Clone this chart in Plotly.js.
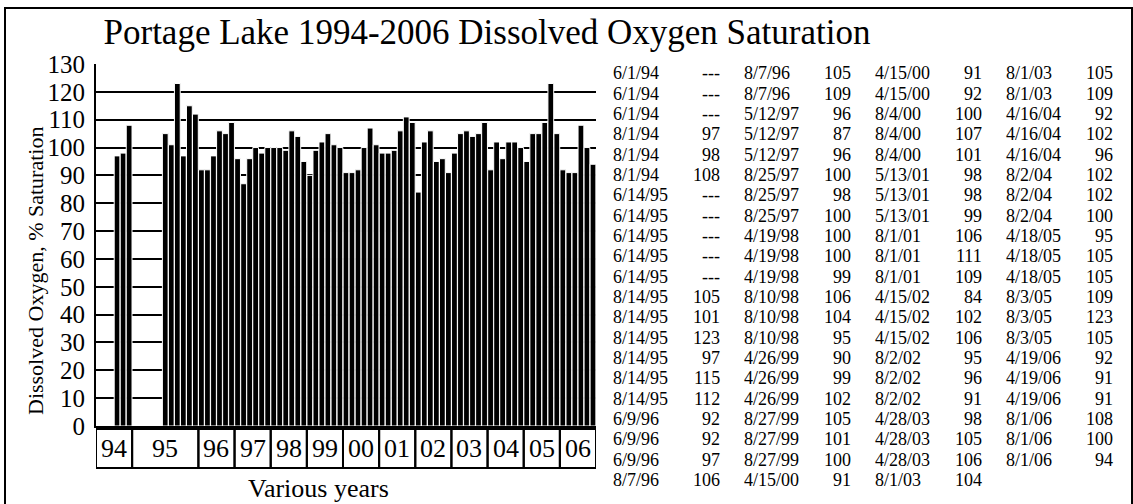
<!DOCTYPE html>
<html>
<head>
<meta charset="utf-8">
<script src="https://cdn.plot.ly/plotly-3.0.1.min.js"></script>
<style>
  html, body { margin: 0; padding: 0; background: #fff; }
  #chart { width: 1133px; height: 504px; }
</style>
</head>
<body>
<div id="chart"></div>
<script>
// ---- Data ----
const sampleDates = [
  '6/1/94','6/1/94','6/1/94','8/1/94','8/1/94','8/1/94',
  '6/14/95','6/14/95','6/14/95','6/14/95','6/14/95',
  '8/14/95','8/14/95','8/14/95','8/14/95','8/14/95','8/14/95',
  '6/9/96','6/9/96','6/9/96','8/7/96','8/7/96','8/7/96',
  '5/12/97','5/12/97','5/12/97','8/25/97','8/25/97','8/25/97',
  '4/19/98','4/19/98','4/19/98','8/10/98','8/10/98','8/10/98',
  '4/26/99','4/26/99','4/26/99','8/27/99','8/27/99','8/27/99',
  '4/15/00','4/15/00','4/15/00','8/4/00','8/4/00','8/4/00',
  '5/13/01','5/13/01','5/13/01','8/1/01','8/1/01','8/1/01',
  '4/15/02','4/15/02','4/15/02','8/2/02','8/2/02','8/2/02',
  '4/28/03','4/28/03','4/28/03','8/1/03','8/1/03','8/1/03',
  '4/16/04','4/16/04','4/16/04','8/2/04','8/2/04','8/2/04',
  '4/18/05','4/18/05','4/18/05','8/3/05','8/3/05','8/3/05',
  '4/19/06','4/19/06','4/19/06','8/1/06','8/1/06','8/1/06'
];
const saturation = [
  null,null,null,97,98,108,
  null,null,null,null,null,
  105,101,123,97,115,112,
  92,92,97,106,105,109,
  96,87,96,100,98,100,
  100,100,99,106,104,95,
  90,99,102,105,101,100,
  91,91,92,100,107,101,
  98,98,99,106,111,109,
  84,102,106,95,96,91,
  98,105,106,104,105,109,
  92,102,96,102,102,100,
  95,105,105,109,123,105,
  92,91,91,108,100,94
];
const titleText = 'Portage Lake 1994-2006 Dissolved Oxygen Saturation';
const yTitleText = 'Dissolved Oxygen, % Saturation';
const xTitleText = 'Various years';
const missingText = '---';

// ---- Layout constants (pixels) ----
const W = 1133, H = 504;
const PL = 96, PR = 596, PT = 64, PB = 426;
const pw = PR - PL, ph = PB - PT;
const px2x = p => (p - PL) / pw;
const px2y = p => (PB - p) / ph;
const FONT = 'Liberation Serif, Times New Roman, serif';

const idx = sampleDates.map((d, i) => i);

// year groups derived from dates
const yearGroups = [];
sampleDates.forEach((d, i) => {
  const yy = d.split('/')[2];
  const last = yearGroups[yearGroups.length - 1];
  if (last && last.yy === yy) last.end = i;
  else yearGroups.push({ yy: yy, start: i, end: i });
});

const shapes = [];
const annotations = [];

// outer frame
shapes.push({ type: 'rect', xref: 'paper', yref: 'paper',
  x0: px2x(5), x1: px2x(1132), y0: px2y(520), y1: px2y(8),
  line: { color: 'black', width: 2 }, fillcolor: 'rgba(0,0,0,0)', layer: 'below' });

// year boxes under the axis
const boxTop = px2y(429), boxBot = px2y(468);
yearGroups.forEach(g => {
  shapes.push({ type: 'rect', xref: 'x', yref: 'paper',
    x0: g.start - 0.5, x1: g.end + 0.5, y0: boxBot, y1: boxTop,
    line: { color: 'black', width: 2 }, fillcolor: 'rgba(0,0,0,0)' });
  annotations.push({ xref: 'x', yref: 'paper', x: (g.start + g.end) / 2,
    y: (boxTop + boxBot) / 2, text: g.yy, showarrow: false,
    xanchor: 'center', yanchor: 'middle',
    font: { family: FONT, size: 26, color: 'black' } });
});

// axis titles as annotations
annotations.push({ xref: 'paper', yref: 'paper', x: px2x(35), y: px2y(271),
  text: yTitleText, textangle: -90, showarrow: false, xanchor: 'center', yanchor: 'middle',
  font: { family: FONT, size: 22, color: 'black' } });
annotations.push({ xref: 'paper', yref: 'paper', x: px2x(318), y: px2y(488),
  text: xTitleText, showarrow: false, xanchor: 'center', yanchor: 'middle',
  font: { family: FONT, size: 26, color: 'black' } });

// data table on the right
const rowsPerCol = Math.ceil(sampleDates.length / 4);
const dateLeft0 = 612, valueRight0 = 721, colStep = 131;
const row0 = 73.5, rowStep = 20.33;
sampleDates.forEach((d, i) => {
  const c = Math.floor(i / rowsPerCol), r = i % rowsPerCol;
  const yy = px2y(row0 + r * rowStep);
  annotations.push({ xref: 'paper', yref: 'paper', x: px2x(dateLeft0 + c * colStep), y: yy,
    text: d, showarrow: false, xanchor: 'left', yanchor: 'middle', borderpad: 0,
    font: { family: FONT, size: 18, color: 'black' } });
  const v = saturation[i];
  annotations.push({ xref: 'paper', yref: 'paper', x: px2x(valueRight0 + c * colStep), y: yy,
    text: v === null ? missingText : String(v), showarrow: false, xanchor: 'right', yanchor: 'middle', borderpad: 0,
    font: { family: FONT, size: 18, color: 'black' } });
});

const trace = {
  type: 'bar', x: idx, y: saturation,
  marker: { color: 'black', line: { color: 'white', width: 1 } },
  hoverinfo: 'skip'
};

const layout = {
  width: W, height: H,
  margin: { l: PL, r: W - PR, t: PT, b: H - PB, pad: 0 },
  paper_bgcolor: 'white', plot_bgcolor: 'white',
  showlegend: false,
  bargap: 0.04,
  title: { text: titleText, x: 487 / W, xanchor: 'center', xref: 'container',
    y: 1 - 32 / H, yanchor: 'middle', yref: 'container',
    font: { family: FONT, size: 35, color: 'black' } },
  xaxis: { range: [-0.5, sampleDates.length - 0.5], showticklabels: false, showgrid: false,
    zeroline: false, showline: true, linecolor: 'black', linewidth: 2, ticks: '', fixedrange: true },
  yaxis: { range: [0, 130], dtick: 10, tick0: 0, showgrid: true, gridcolor: 'black', gridwidth: 2,
    zeroline: false, showline: true, linecolor: 'black', linewidth: 2, ticks: '',
    ticklabelstandoff: 4,
    tickfont: { family: FONT, size: 25, color: 'black' }, fixedrange: true },
  shapes: shapes,
  annotations: annotations
};

Plotly.newPlot('chart', [trace], layout, { displayModeBar: false, staticPlot: true });
</script>
</body>
</html>
